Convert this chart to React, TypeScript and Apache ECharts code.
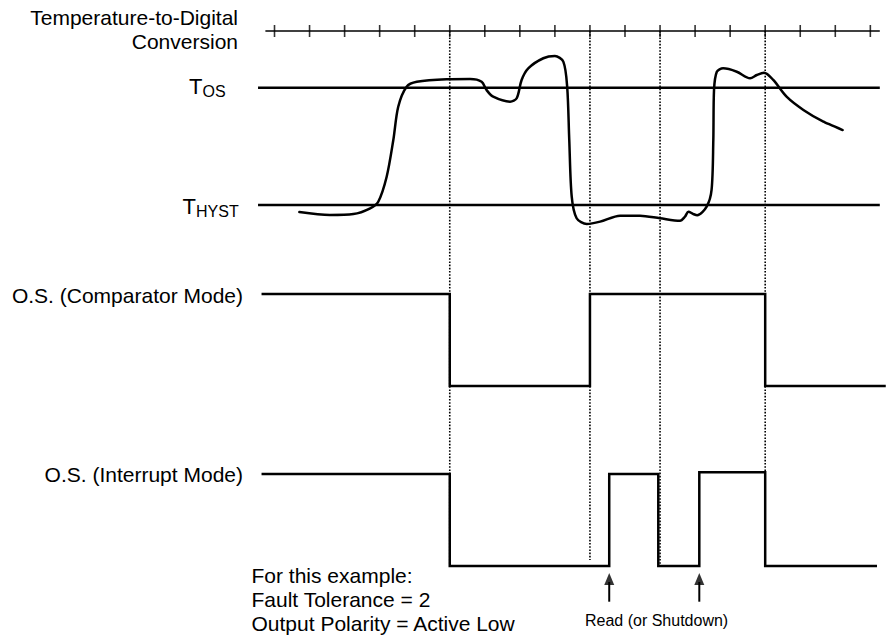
import React, { useEffect, useRef } from "react";
import * as echarts from "echarts";

const FONT = '"Liberation Sans", Arial, Helvetica, sans-serif';

// Time axis: one unit = one temperature-to-digital conversion period
const conversionTicks = [0, 1, 2, 3, 4, 5, 6, 7, 8, 9, 10, 11, 12, 13, 14, 15, 16, 17];
const tickAxisSpan = [-0.26, 17.27];
const tickAxisRow = 31; // page row of the conversion axis
const conversionMarks = [5, 9, 11, 14];
const conversionMarkBottoms = [566, 560, 566, 472];

// Temperature trace (T_HYST = 0, T_OS = 1)
const tempTime = [
  0.71, 1.58, 2.25, 2.73, 2.96, 3.2, 3.39, 3.53, 3.77, 4.06, 4.91, 5.58, 5.91, 6.05, 6.24, 6.72,
  6.91, 7.05, 7.24, 7.67, 8.0, 8.24, 8.35, 8.41, 8.48, 8.62, 8.91, 9.29, 9.86, 10.43, 11.0, 11.57,
  11.71, 11.81, 11.95, 12.06, 12.33, 12.47, 12.52, 12.54, 12.62, 12.8, 13.19, 13.57, 13.76, 13.97,
  14.23, 14.61, 15.09, 15.66, 16.21,
];
const tempLevel = [
  -0.06, -0.085, -0.077, -0.028, 0.028, 0.241, 0.554, 0.838, 1.009, 1.051, 1.072, 1.074, 1.051,
  0.98, 0.923, 0.881, 0.91, 1.066, 1.165, 1.251, 1.27, 1.222, 1.009, 0.554, 0.071, -0.113, -0.162,
  -0.142, -0.091, -0.091, -0.113, -0.134, -0.1, -0.057, -0.077, -0.088, -0.014, 0.128, 0.554, 0.98,
  1.136, 1.165, 1.136, 1.08, 1.108, 1.128, 1.066, 0.923, 0.81, 0.71, 0.639,
];

const thresholdLevels = [1, 0]; // T_OS, T_HYST
const thresholdSpan = [-0.47, 17.27];

// O.S. comparator mode output
const comparatorTime = [-0.37, 5, 5, 9, 9, 14, 14, 17.44];
const comparatorLevel = [1, 1, 0, 0, 1, 1, 0, 0];

// O.S. interrupt mode output
const interruptTime = [-0.37, 5, 5, 9.55, 9.55, 10.95, 10.95, 12.12, 12.12, 14, 14, 17.19];
const interruptLevel = [1, 1, 0, 0, 1, 1, 0, 0, 1.02, 1.02, 0, 0];

// Read (or shutdown) events
const readTimes = [9.55, 12.12];
const readArrowRows = [601.7, 573];

const X_MIN = -7.832;
const X_MAX = 17.618;

export default function App() {
  const ref = useRef<HTMLDivElement>(null);

  useEffect(() => {
    if (!ref.current) return;
    const chart = echarts.init(ref.current, null, { renderer: "svg" });
    const black = "#000";
    const xAxes = [0, 1, 2, 3].map((i) => ({
      type: "value" as const,
      gridIndex: i,
      min: X_MIN,
      max: X_MAX,
      show: false,
    }));
    const yAxes = [
      { type: "value", gridIndex: 0, min: -0.2, max: 1.4, show: false },
      { type: "value", gridIndex: 1, min: -0.1, max: 1.1, show: false },
      { type: "value", gridIndex: 2, min: -0.1, max: 1.1, show: false },
      { type: "value", gridIndex: 3, min: 0, max: 637, inverse: true, show: false },
    ];
    const solid = (w: number) => ({ color: black, width: w, cap: "butt" as const, join: "miter" as const });
    const series: any[] = [];

    thresholdLevels.forEach((lv) => {
      series.push({
        type: "line", xAxisIndex: 0, yAxisIndex: 0, symbol: "none", silent: true, clip: false,
        data: thresholdSpan.map((t) => [t, lv]), lineStyle: solid(2.5),
      });
    });
    series.push({
      type: "line", xAxisIndex: 0, yAxisIndex: 0, symbol: "none", silent: true, clip: false,
      smooth: 0.3,
      data: tempTime.map((t, i) => [t, tempLevel[i]]),
      lineStyle: { color: black, width: 2.5, cap: "round", join: "round" },
    });
    series.push({
      type: "line", xAxisIndex: 1, yAxisIndex: 1, symbol: "none", silent: true, clip: false,
      data: comparatorTime.map((t, i) => [t, comparatorLevel[i]]), lineStyle: solid(2.5),
    });
    series.push({
      type: "line", xAxisIndex: 2, yAxisIndex: 2, symbol: "none", silent: true, clip: false,
      data: interruptTime.map((t, i) => [t, interruptLevel[i]]), lineStyle: solid(2.5),
    });
    // conversion axis
    series.push({
      type: "line", xAxisIndex: 3, yAxisIndex: 3, symbol: "none", silent: true, clip: false,
      data: tickAxisSpan.map((t) => [t, tickAxisRow]), lineStyle: solid(1.3),
    });
    series.push({
      type: "scatter", xAxisIndex: 3, yAxisIndex: 3, silent: true, symbol: "rect",
      symbolSize: [1.6, 12], itemStyle: { color: black },
      data: conversionTicks.map((t) => [t, tickAxisRow]),
    });
    // dotted conversion-end markers
    conversionMarks.forEach((t, i) => {
      series.push({
        type: "line", xAxisIndex: 3, yAxisIndex: 3, symbol: "none", silent: true, clip: false,
        data: [[t, tickAxisRow], [t, conversionMarkBottoms[i]]],
        lineStyle: { color: black, width: 1.6, type: [1.6, 1.6] },
      });
    });
    // read arrows
    readTimes.forEach((t) => {
      series.push({
        type: "line", xAxisIndex: 3, yAxisIndex: 3, symbol: "none", silent: true, clip: false,
        data: [[t, readArrowRows[0]], [t, readArrowRows[1] + 9]], lineStyle: solid(2),
      });
      series.push({
        type: "scatter", xAxisIndex: 3, yAxisIndex: 3, silent: true, symbol: "triangle",
        symbolSize: [10, 12], symbolOffset: [0, "50%"], itemStyle: { color: black },
        data: [[t, readArrowRows[1]]],
      });
    });

    const txt = (text: string, x: number, y: number, size: number, align: string) => ({
      type: "text",
      x,
      y,
      silent: true,
      style: { text, font: `${size}px ${FONT}`, fill: black, textAlign: align, textVerticalAlign: "middle" },
    });

    chart.setOption({
      animation: false,
      backgroundColor: "#fff",
      grid: [
        { left: 0, right: 0, top: 40.78, height: 187.68 },
        { left: 0, right: 0, top: 284.8, height: 110.4 },
        { left: 0, right: 0, top: 464.8, height: 110.4 },
        { left: 0, right: 0, top: 0, height: 637 },
      ],
      xAxis: xAxes,
      yAxis: yAxes,
      series,
      graphic: [
        txt("Temperature-to-Digital", 238, 17.5, 21, "right"),
        txt("Conversion", 238, 41, 21, "right"),
        txt("T", 189, 86, 22, "left"),
        txt("OS", 202.5, 91, 16, "left"),
        txt("T", 182.5, 206, 22, "left"),
        txt("HYST", 196, 211, 16, "left"),
        txt("O.S. (Comparator Mode)", 243, 295, 21, "right"),
        txt("O.S. (Interrupt Mode)", 243, 474, 21, "right"),
        txt("For this example:", 251.5, 575, 21, "left"),
        txt("Fault Tolerance = 2", 251.5, 599, 21, "left"),
        txt("Output Polarity = Active Low", 251.5, 623, 21, "left"),
        txt("Read (or Shutdown)", 585, 620, 16, "left"),
      ],
    });
    return () => chart.dispose();
  }, []);

  return (
    <div
      ref={ref}
      style={{ position: "fixed", left: 0, top: 0, width: 892, height: 637, background: "#fff" }}
    />
  );
}
